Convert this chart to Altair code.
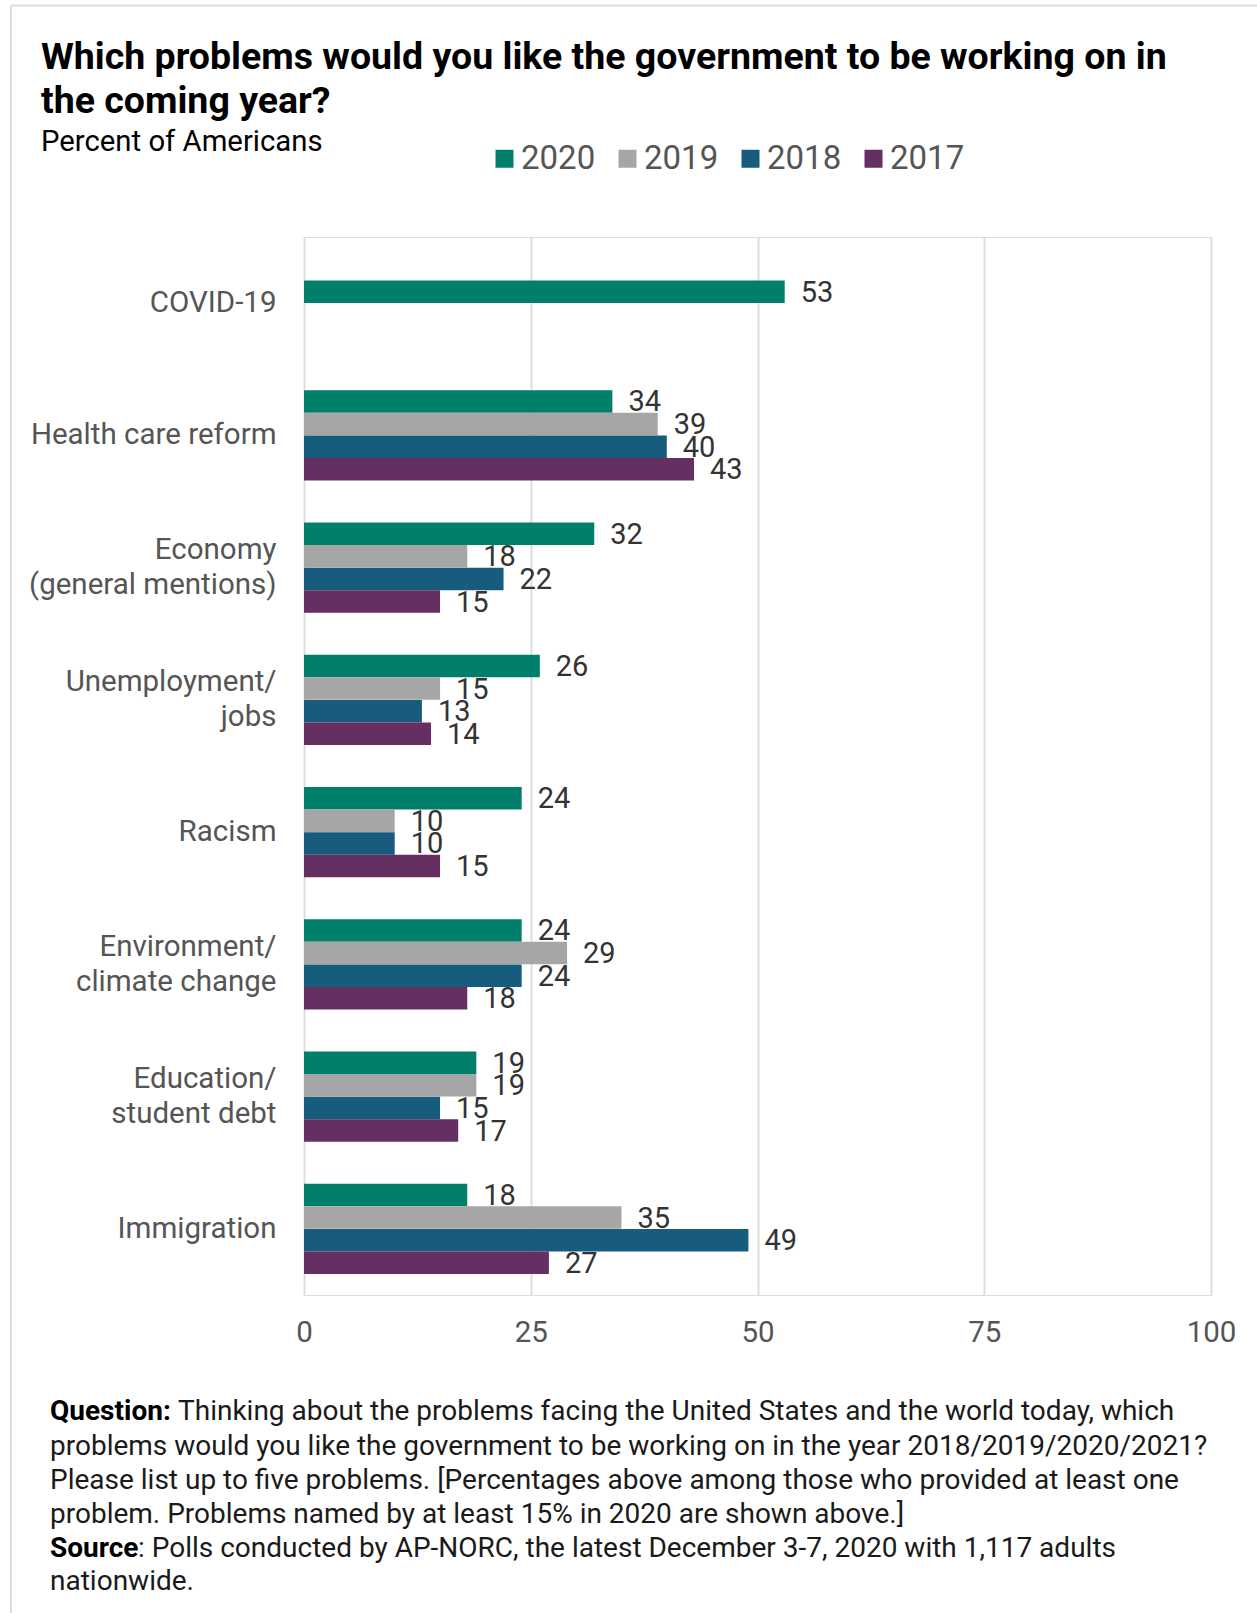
import altair as alt
import pandas as pd

# ---- data ----
problems = [
    "COVID-19",
    "Health care reform",
    "Economy\n(general mentions)",
    "Unemployment/\njobs",
    "Racism",
    "Environment/\nclimate change",
    "Education/\nstudent debt",
    "Immigration",
]
years = ["2020", "2019", "2018", "2017"]
v2020 = [53, 34, 32, 26, 24, 24, 19, 18]
v2019 = [None, 39, 18, 15, 10, 29, 19, 35]
v2018 = [None, 40, 22, 13, 10, 24, 15, 49]
v2017 = [None, 43, 15, 14, 15, 18, 17, 27]
colors = ["#00806b", "#a6a6a6", "#175c7c", "#652f61"]

title_lines = ["Which problems would you like the government to be working on in",
               "the coming year?"]
subtitle = "Percent of Americans"
footer_bold = ["Question:", "", "", "", "Source", ""]
footer_rest = [
    "Thinking about the problems facing the United States and the world today, which",
    "problems would you like the government to be working on in the year 2018/2019/2020/2021?",
    "Please list up to five problems. [Percentages above among those who provided at least one",
    "problem. Problems named by at least 15% in 2020 are shown above.]",
    ": Polls conducted by AP-NORC, the latest December 3-7, 2020 with 1,117 adults",
    "nationwide.",
]

rows = []
for i, p in enumerate(problems):
    for y, vals in zip(years, [v2020, v2019, v2018, v2017]):
        if vals[i] is not None:
            # the single COVID-19 bar sits in the second slot of its group in the original
            slot = "2019" if (p == "COVID-19") else y
            rows.append({"problem": p, "year": y, "slot": slot, "value": vals[i]})
df = pd.DataFrame(rows)

W, H = 907, 1058
PL, PT = 304, 237
FONT = "Roboto"

y_enc = alt.Y("problem:N", sort=problems,
              scale=alt.Scale(paddingInner=0, paddingOuter=0),
              axis=alt.Axis(title=None, labelExpr="split(datum.label, '\\n')",
                            labelFontSize=29.5, labelColor="#555555", labelFont=FONT,
                            labelLineHeight=35, labelPadding=28, ticks=False, tickSize=0,
                            labelOffset={"condition": {"test": "indexof(datum.value, '\\n') >= 0",
                                                       "value": -17.5}, "value": 0},
                            domain=False, grid=False, labelLimit=400))
x_enc = alt.X("value:Q", scale=alt.Scale(domain=[0, 100], nice=False),
              axis=alt.Axis(title=None, values=[0, 25, 50, 75, 100], labelFontSize=29.5,
                            labelColor="#555555", labelFont=FONT, labelPadding=23,
                            ticks=False, tickSize=0, domain=False, grid=True,
                            gridColor="#dddddd", gridWidth=2, labelFlush=False))
yoff = alt.YOffset("slot:N", sort=years,
                   scale=alt.Scale(domain=years, paddingInner=0, paddingOuter=0.925))

base = alt.Chart(df)
bars = base.mark_bar(size=22.6).encode(
    x=x_enc, y=y_enc, yOffset=yoff,
    color=alt.Color("year:N", sort=years,
                    scale=alt.Scale(domain=years, range=colors),
                    legend=alt.Legend(title=None, orient="none", legendX=184, legendY=-95,
                                      direction="horizontal", symbolType="square",
                                      symbolSize=324, symbolStrokeWidth=0,
                                      labelFontSize=33, labelFont=FONT, labelColor="#555555",
                                      columnPadding=15, labelOffset=0, padding=0)),
)
labels = base.mark_text(align="left", baseline="middle", dx=16, dy=1, fontSize=29,
                        font=FONT, color="#333333").encode(
    x="value:Q", y=alt.Y("problem:N", sort=problems), yOffset=yoff,
    text=alt.Text("value:Q"))

one = alt.Chart(pd.DataFrame({"k": [0]}))
line_ys = [1412, 1447, 1481, 1515, 1549, 1582]
bold_w = {"Question:": 128, "Source": 88}
footer_layers = []
for i, (b, r) in enumerate(zip(footer_bold, footer_rest)):
    yy = line_ys[i] - PT
    x0 = 50 - PL
    if b:
        footer_layers.append(one.mark_text(align="left", baseline="middle", fontSize=28,
                                           font=FONT, fontWeight="bold", color="#000000").encode(
            x=alt.value(x0), y=alt.value(yy), text=alt.value(b)))
        xr = x0 + bold_w[b]
    else:
        xr = x0
    footer_layers.append(one.mark_text(align="left", baseline="middle", fontSize=28,
                                       font=FONT, color="#1a1a1a").encode(
        x=alt.value(xr), y=alt.value(yy), text=alt.value(r)))

frame_v = one.mark_rule(color="#dddddd", strokeWidth=2).encode(
    x=alt.value(11 - PL), y=alt.value(5.5 - PT), y2=alt.value(1613 - PT))
frame_h = one.mark_rule(color="#dddddd", strokeWidth=2).encode(
    x=alt.value(11 - PL), x2=alt.value(1257 - PL), y=alt.value(5.5 - PT))

chart = alt.layer(bars, labels, frame_v, frame_h, *footer_layers).properties(
    width=W, height=H,
    title=alt.TitleParams(text=title_lines, subtitle=subtitle, anchor="start",
                          frame="group", dx=-263, offset=-152.7, fontSize=37.5,
                          font=FONT, fontWeight="bold", color="#000000", lineHeight=44,
                          subtitleFont=FONT, subtitleFontSize=29.3, subtitleColor="#000000",
                          subtitlePadding=7),
    autosize=alt.AutoSizeParams(type="none"),
    padding={"left": PL, "top": PT, "right": 1257 - PL - W, "bottom": 1613 - PT - H},
).configure_view(stroke=None).configure(background="white")

chart.save("out.html", embed_options={"renderer": "svg", "actions": False})
